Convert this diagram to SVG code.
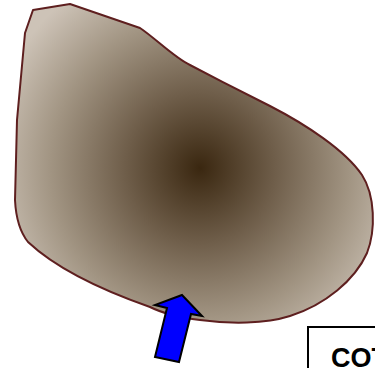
<svg xmlns="http://www.w3.org/2000/svg" width="375" height="368" viewBox="0 0 375 368">
<defs>
<radialGradient id="g" gradientUnits="userSpaceOnUse" cx="200" cy="168" r="215">
<stop offset="0" stop-color="#3a2710"/>
<stop offset="0.35" stop-color="#6f5e4a"/>
<stop offset="0.7" stop-color="#a29583"/>
<stop offset="1" stop-color="#cdc3b7"/>
</radialGradient>
<style>
.blob{fill:url(#g);stroke:#5e1f1f;stroke-width:2;stroke-linejoin:round}
.arrow{fill:#0000ff;stroke:#000;stroke-width:2;stroke-linejoin:miter}
.box{fill:#fff;stroke:#000;stroke-width:2}
.lbl{font-family:"Liberation Sans",Arial,sans-serif;font-weight:bold;font-size:27px;fill:#000}
</style>
</defs>
<g id="shape">
<path class="blob" d="M33,10 L70,4 L140,28 C155,38 175,58 190,65 C215,78 250,96 270,106 C305,124 345,150 362,175 C375,195 376,230 367,253 C355,280 325,305 290,316 C265,324 230,324 200,320 C175,317 160,312 150,307 C110,293 60,272 28,242 C20,232 16,220 15,200 L17,120 L25,33 Z"/>
</g>
<g id="connectors">
<polygon class="arrow" points="182,295 202,316 191,314 179,362 155,357 167,308 155,305"/>
</g>
<g id="label">
<rect class="box" x="308" y="327" width="80" height="60"/>
<text class="lbl" x="331" y="367">COT</text>
</g>
</svg>
